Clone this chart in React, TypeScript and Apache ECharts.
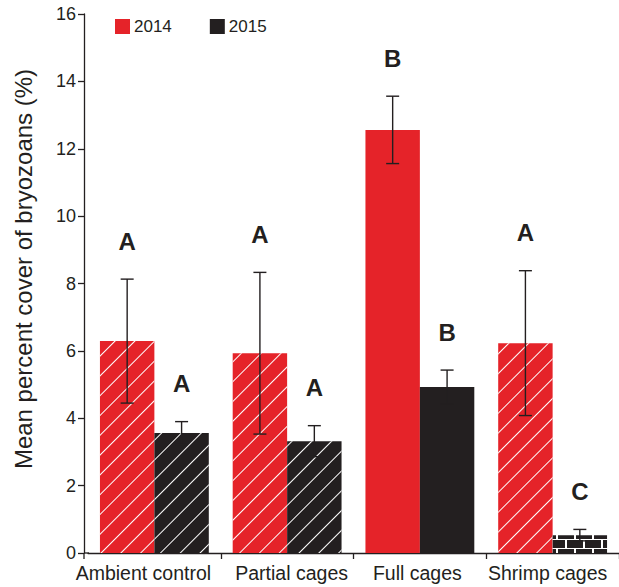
import React, { useEffect, useRef } from "react";
import * as echarts from "echarts";

// Mean percent cover of bryozoans by cage treatment, 2014 vs 2015
const categories = ["Ambient control", "Partial cages", "Full cages", "Shrimp cages"];
const cover2014 = [6.29, 5.93, 12.56, 6.23];
const se2014 = [1.84, 2.4, 1.0, 2.15];
const cover2015 = [3.56, 3.32, 4.93, 0.53];
const se2015 = [0.34, 0.46, 0.5, 0.17];
const letters2014 = ["A", "A", "B", "A"];
const letters2015 = ["A", "A", "B", "C"];
const yTicks = [0, 2, 4, 6, 8, 10, 12, 14, 16];
const yTitle = "Mean percent cover of bryozoans (%)";

const RED = "#e52329";
const INK = "#231f20";
const FONT = "'Liberation Sans', Arial, Helvetica, sans-serif";

// pattern kinds for each bar
const pattern2014 = ["diag", "diag", "solid", "diag"];
const pattern2015 = ["diag", "diag", "solid", "brick"];

// per-label nudges [top, right, bottom, left] so neighbouring labels keep apart
const labelPadding = [
  [0, 22, 0, 0],
  [0, 0, 0, 9],
  [0, 5, 0, 0],
  [0, 10, 0, 0],
];

const diagDecal = {
  symbol: "rect",
  symbolSize: 1,
  color: "#ffffff",
  dashArrayX: [1, 0],
  dashArrayY: [1, 12.4],
  rotation: -Math.PI / 4,
};

const brickDecal = {
  symbol: "rect",
  symbolSize: 1,
  color: INK,
  dashArrayX: [
    [16, 2],
    [7, 2, 9, 0],
  ],
  dashArrayY: [8, 1],
  rotation: 0,
};

function barItem(value: number, kind: string, base: string) {
  if (kind === "diag") return { value, itemStyle: { color: base, decal: diagDecal } };
  if (kind === "brick") return { value, itemStyle: { color: "#ffffff", decal: brickDecal } };
  return { value, itemStyle: { color: base } };
}

const HALF_OFFSET = 0.205; // bar centre offset as fraction of band width

function errorSeries(means: number[], ses: number[], letters: string[], side: number) {
  return {
    type: "custom",
    z: 10,
    silent: true,
    data: means.map((m, i) => [i, m, ses[i]]),
    renderItem: (params: any, api: any) => {
      const cat = api.value(0);
      const mean = api.value(1);
      const se = api.value(2);
      const band = api.size([1, 0])[0];
      const cx = api.coord([cat, 0])[0] + side * band * HALF_OFFSET;
      const top = api.coord([cat, mean + se])[1];
      const bot = api.coord([cat, mean - se])[1];
      const cap = 6.5;
      const ls = { stroke: INK, lineWidth: 1.4 };
      return {
        type: "group",
        children: [
          { type: "line", shape: { x1: cx, y1: top, x2: cx, y2: bot }, style: ls },
          { type: "line", shape: { x1: cx - cap, y1: top, x2: cx + cap, y2: top }, style: ls },
          { type: "line", shape: { x1: cx - cap, y1: bot, x2: cx + cap, y2: bot }, style: ls },
          {
            type: "text",
            style: {
              text: letters[params.dataIndex],
              x: cx,
              y: top - 38,
              textAlign: "center",
              textVerticalAlign: "middle",
              font: `bold 24px ${FONT}`,
              fill: INK,
            },
          },
        ],
      };
    },
  };
}

export default function App() {
  const ref = useRef<HTMLDivElement>(null);

  useEffect(() => {
    if (!ref.current) return;
    const chart = echarts.init(ref.current, null, { renderer: "svg" });
    chart.setOption({
      animation: false,
      backgroundColor: "#ffffff",
      textStyle: { fontFamily: FONT, color: INK },
      grid: { left: 88, right: -11, top: 14, bottom: 34, containLabel: false },
      legend: {
        left: 110,
        top: 13,
        itemWidth: 15,
        itemHeight: 15,
        itemGap: 38,
        icon: "rect",
        textStyle: { fontSize: 17, color: INK, fontFamily: FONT, padding: [0, 0, 0, -1] },
        data: ["2014", "2015"],
      },
      graphic: [
        // baseline stub and corner tick between the y axis and the first band
        {
          type: "line",
          shape: { x1: 84, y1: 553, x2: 89, y2: 553 },
          style: { stroke: INK, lineWidth: 1.3 },
          z: 5,
        },
        {
          type: "line",
          shape: { x1: 84, y1: 553, x2: 84, y2: 559 },
          style: { stroke: INK, lineWidth: 1.3 },
          z: 5,
        },
        {
          type: "text",
          x: 23,
          y: 269,
          rotation: Math.PI / 2,
          style: {
            text: yTitle,
            textAlign: "center",
            textVerticalAlign: "middle",
            font: `24px ${FONT}`,
            fill: INK,
          },
        },
      ],
      xAxis: {
        type: "category",
        data: categories.map((c, i) => ({ value: c, textStyle: { padding: labelPadding[i] } })),
        axisLine: { lineStyle: { color: INK, width: 1.3 } },
        axisTick: {
          show: true,
          alignWithLabel: false,
          length: 6,
          interval: (index: number) => index !== 0,
          lineStyle: { color: INK, width: 1.3 },
        },
        axisLabel: { fontSize: 19.5, color: INK, margin: 10, fontFamily: FONT, interval: 0 },
        splitLine: { show: false },
      },
      yAxis: {
        type: "value",
        min: yTicks[0],
        max: yTicks[yTicks.length - 1],
        interval: 2,
        offset: 4,
        axisLine: { show: true, lineStyle: { color: INK, width: 1.3 } },
        axisTick: { show: true, length: 6, lineStyle: { color: INK, width: 1.3 } },
        axisLabel: { fontSize: 18, color: INK, margin: 8, fontFamily: FONT },
        splitLine: { show: false },
      },
      series: [
        {
          name: "2014",
          type: "bar",
          barGap: "0%",
          barCategoryGap: "18%",
          itemStyle: { color: RED },
          data: cover2014.map((v, i) => barItem(v, pattern2014[i], RED)),
        },
        {
          name: "2015",
          type: "bar",
          barGap: "0%",
          barCategoryGap: "18%",
          itemStyle: { color: INK },
          data: cover2015.map((v, i) => barItem(v, pattern2015[i], INK)),
        },
        errorSeries(cover2014, se2014, letters2014, -1),
        errorSeries(cover2015, se2015, letters2015, 1),
      ],
    });
    return () => chart.dispose();
  }, []);

  return (
    <div
      ref={ref}
      style={{ position: "fixed", left: 0, top: 0, width: 619, height: 587, background: "#fff" }}
    />
  );
}
